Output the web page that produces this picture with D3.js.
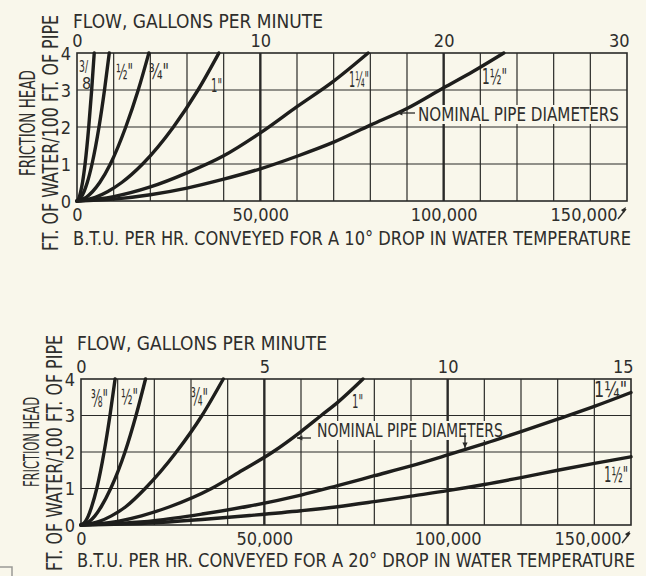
<!DOCTYPE html>
<html>
<head>
<meta charset="utf-8">
<script src="https://cdn.jsdelivr.net/npm/d3@7"></script>
<style>
  body { margin: 0; background: #f9f7eb; }
  svg { display: block; }
  text { font-family: "DejaVu Sans Condensed", "Liberation Sans Narrow", "DejaVu Sans", sans-serif; fill: #2e2e2c; }
</style>
</head>
<body>
<div id="chart"></div>
<script>
// tick values
var btuTicks = [0, 50000, 100000, 150000];
var headTicks = [0, 1, 2, 3, 4];
var gpmTicks10 = [0, 10, 20, 30];
var gpmTicks20 = [0, 5, 10, 15];
var pipeLabels = ["⅜\"", "½\"", "¾\"", "1\"", "1¼\"", "1½\""];

// 10 degree drop: [btu per hr, friction head]
var drop10_38 = [[0,0],[600,0.1],[1000,0.25],[1500,0.5],[2200,1],[3200,2],[4000,3],[4700,4]];
var drop10_12 = [[0,0],[1100,0.1],[1900,0.25],[2800,0.5],[4100,1],[6000,2],[7500,3],[8800,4]];
var drop10_34 = [[0,0],[2500,0.1],[4200,0.25],[6200,0.5],[9100,1],[13300,2],[16700,3],[19600,4]];
var drop10_1 = [[0,0],[5000,0.1],[8300,0.25],[12200,0.5],[17900,1],[26300,2],[33000,3],[38700,4]];
var drop10_114 = [[0,0],[10000,0.12],[20000,0.38],[30000,0.76],[40000,1.22],[50000,1.84],[60000,2.55],[70000,3.24],[79400,4]];
var drop10_112 = [[0,0],[10000,0.05],[20000,0.17],[30000,0.35],[40000,0.59],[50000,0.87],[60000,1.21],[70000,1.59],[80000,2.05],[90000,2.5],[100000,3.06],[108000,3.5],[116400,4]];

// 20 degree drop
var drop20_38 = [[0,0],[1200,0.1],[2000,0.25],[2900,0.5],[4300,1],[6300,2],[7900,3],[9300,4]];
var drop20_12 = [[0,0],[2300,0.1],[3800,0.25],[5500,0.5],[8100,1],[12000,2],[15000,3],[17600,4]];
var drop20_34 = [[0,0],[5000,0.1],[8300,0.25],[12200,0.5],[17500,1],[26000,2],[33000,3],[38800,4]];
var drop20_1 = [[0,0],[10000,0.1],[16500,0.25],[24200,0.5],[35600,1],[44000,1.5],[52300,2],[60000,2.56],[65500,3],[70000,3.36],[76900,4]];
var drop20_114 = [[0,0],[20000,0.12],[33000,0.3],[46000,0.52],[60000,0.82],[70000,1.08],[80000,1.35],[90000,1.62],[100000,1.92],[110000,2.23],[120000,2.56],[130000,2.9],[140000,3.25],[150000,3.63]];
var drop20_112 = [[0,0],[20000,0.06],[33000,0.15],[46000,0.26],[60000,0.39],[70000,0.5],[80000,0.64],[90000,0.79],[100000,0.94],[110000,1.11],[120000,1.3],[130000,1.5],[140000,1.69],[150000,1.87]];

var svg = d3.select("#chart").append("svg")
  .attr("width", 646)
  .attr("height", 576);

var bg = "#f9f7eb";
var ink = "#2a2a28";

function drawChart(cfg) {
  var x = d3.scaleLinear().domain([0, 150000]).range([cfg.left, cfg.right]);
  var y = d3.scaleLinear().domain([0, 4]).range([cfg.bottom, cfg.top]);
  var gpm = d3.scaleLinear().domain([0, cfg.gpmTicks[3]]).range([cfg.left, cfg.right]);

  var g = svg.append("g");

  // grid
  g.selectAll(".vgrid")
    .data(d3.range(10000, 150000, 10000))
    .enter().append("line")
    .attr("x1", function(d) { return x(d); })
    .attr("x2", function(d) { return x(d); })
    .attr("y1", y(0)).attr("y2", y(4))
    .style("stroke", ink)
    .style("stroke-width", function(d) { return d % 50000 === 0 ? 2.4 : 1.2; });

  g.selectAll(".hgrid")
    .data(headTicks.slice(1, 4))
    .enter().append("line")
    .attr("x1", x(0)).attr("x2", x(150000))
    .attr("y1", function(d) { return y(d); })
    .attr("y2", function(d) { return y(d); })
    .style("stroke", ink)
    .style("stroke-width", 1.2);

  g.append("rect")
    .attr("x", x(0)).attr("y", y(4))
    .attr("width", x(150000) - x(0))
    .attr("height", y(0) - y(4))
    .style("fill", "none")
    .style("stroke", ink)
    .style("stroke-width", 1.6);

  // blank the grid behind the note
  g.append("rect")
    .attr("x", cfg.noteX - 2).attr("y", cfg.noteY - 16)
    .attr("width", cfg.noteW + 4).attr("height", 19)
    .style("fill", bg);

  // curves
  var line = d3.line()
    .x(function(d) { return x(d[0]); })
    .y(function(d) { return y(d[1]); })
    .curve(d3.curveMonotoneX);

  g.selectAll(".pipe")
    .data(cfg.series)
    .enter().append("path")
    .attr("d", line)
    .style("fill", "none")
    .style("stroke", "#1e1e1c")
    .style("stroke-width", 3.4)
    .style("stroke-linecap", "round");

  // axes
  var leftAxis = g.append("g")
    .attr("transform", "translate(" + (cfg.left - 4) + ",0)")
    .call(d3.axisLeft(y).tickValues(headTicks).tickSize(0).tickFormat(d3.format("d")));
  leftAxis.select(".domain").remove();
  leftAxis.selectAll("text")
    .style("font-size", "18px")
    .style("fill", "#2e2e2c")
    .attr("x", -2)
    .attr("dy", "0.36em");

  var bottomAxis = g.append("g")
    .attr("transform", "translate(0," + (cfg.bottom + 3) + ")")
    .call(d3.axisBottom(x).tickValues(btuTicks).tickSize(0).tickFormat(d3.format(",")));
  bottomAxis.select(".domain").remove();
  bottomAxis.selectAll("text")
    .style("font-size", "18px")
    .style("fill", "#2e2e2c")
    .attr("y", 4)
    .attr("dy", "0.71em")
    .filter(function(d) { return d === 150000; })
    .style("text-anchor", "end")
    .attr("x", -10);

  var topAxis = g.append("g")
    .attr("transform", "translate(0," + (cfg.top - 4) + ")")
    .call(d3.axisTop(gpm).tickValues(cfg.gpmTicks).tickSize(0).tickFormat(d3.format("d")));
  topAxis.select(".domain").remove();
  topAxis.selectAll("text")
    .style("font-size", "18px")
    .style("fill", "#2e2e2c")
    .attr("y", -2)
    .filter(function(d) { return d === cfg.gpmTicks[3]; })
    .style("text-anchor", "end")
    .attr("x", 2);

  // little arrow at the end of 150,000
  g.append("path")
    .attr("d", "M" + (x(150000) - 9) + "," + (cfg.bottom + 18) + "L" + (x(150000) - 1) + "," + (cfg.bottom + 8))
    .style("stroke", ink).style("stroke-width", 1.3).style("fill", "none");
  g.append("path")
    .attr("d", "M" + (x(150000) - 1) + "," + (cfg.bottom + 6) + "l-5,3 l3,3z")
    .style("fill", ink);

  // titles
  g.append("text")
    .attr("x", cfg.left - 4)
    .attr("y", cfg.flowY)
    .attr("textLength", 250)
    .attr("lengthAdjust", "spacingAndGlyphs")
    .style("font-size", "19px")
    .text("FLOW, GALLONS PER MINUTE");

  g.append("text")
    .attr("x", cfg.left - 4)
    .attr("y", cfg.btuY)
    .attr("textLength", 558)
    .attr("lengthAdjust", "spacingAndGlyphs")
    .style("font-size", "19px")
    .text("B.T.U. PER HR. CONVEYED FOR A " + cfg.drop + " DROP IN WATER TEMPERATURE");

  g.append("text")
    .attr("transform", "translate(" + (cfg.left - 42) + "," + cfg.headMid + ") rotate(-90)")
    .style("text-anchor", "middle")
    .attr("textLength", cfg.headLen)
    .attr("lengthAdjust", "spacingAndGlyphs")
    .style("font-size", "21px")
    .text("FRICTION HEAD");

  g.append("text")
    .attr("transform", "translate(" + (cfg.left - 19) + "," + cfg.unitMid + ") rotate(-90)")
    .style("text-anchor", "middle")
    .attr("textLength", 236)
    .attr("lengthAdjust", "spacingAndGlyphs")
    .style("font-size", "21px")
    .text("FT. OF WATER/100 FT. OF PIPE");

  // note text with arrows
  g.append("text")
    .attr("x", cfg.noteX)
    .attr("y", cfg.noteY)
    .attr("textLength", cfg.noteW)
    .attr("lengthAdjust", "spacingAndGlyphs")
    .style("font-size", "20px")
    .text("NOMINAL PIPE DIAMETERS");

  cfg.arrows.forEach(function(a) {
    g.append("path")
      .attr("d", "M" + a[0] + "," + a[1] + "L" + a[2] + "," + a[3])
      .style("stroke", ink).style("stroke-width", 1.3);
    var ang = Math.atan2(a[3] - a[1], a[2] - a[0]);
    var p1 = [a[2] - 6 * Math.cos(ang - 0.45), a[3] - 6 * Math.sin(ang - 0.45)];
    var p2 = [a[2] - 6 * Math.cos(ang + 0.45), a[3] - 6 * Math.sin(ang + 0.45)];
    g.append("path")
      .attr("d", "M" + a[2] + "," + a[3] + "L" + p1 + "L" + p2 + "Z")
      .style("fill", ink);
  });

  // pipe size labels
  cfg.labels.forEach(function(l) {
    var t = g.append("text")
      .attr("x", l[1]).attr("y", l[2])
      .style("font-size", l[3] + "px")
      .text(l[0]);
    if (l[4]) t.attr("textLength", l[4]).attr("lengthAdjust", "spacingAndGlyphs");
  });
}

drawChart({
  left: 77, right: 627, top: 53, bottom: 201,
  gpmTicks: gpmTicks10,
  drop: "10°",
  flowY: 28, btuY: 245,
  headMid: 123, headLen: 106, unitMid: 133,
  series: [drop10_38, drop10_12, drop10_34, drop10_1, drop10_114, drop10_112],
  noteX: 418, noteY: 121, noteW: 201,
  arrows: [[415, 113, 397, 113]],
  labels: [["3/", 79, 72, 16, 9], ["8", 82, 89, 16], [pipeLabels[1], 116, 79, 22, 17], [pipeLabels[2], 149, 79, 22, 20],
           [pipeLabels[3], 211, 92, 20, 11], [pipeLabels[4], 349, 87, 22, 20], [pipeLabels[5], 482, 84, 22, 25]]
});

drawChart({
  left: 81, right: 631, top: 379, bottom: 525,
  gpmTicks: gpmTicks20,
  drop: "20°",
  flowY: 350, btuY: 567,
  headMid: 442, headLen: 90, unitMid: 453,
  series: [drop20_38, drop20_12, drop20_34, drop20_1, drop20_114, drop20_112],
  noteX: 317, noteY: 437, noteW: 186,
  arrows: [[311, 438, 297, 438], [465, 433, 465, 448]],
  labels: [[pipeLabels[0], 91, 407, 24, 17], [pipeLabels[1], 121, 404, 22, 17], [pipeLabels[2], 191, 406, 24, 17],
           [pipeLabels[3], 352, 408, 19, 11], [pipeLabels[4], 594, 397, 22, 33], [pipeLabels[5], 604, 482, 22, 24]]
});

// small mark at lower left corner of the page
svg.append("path")
  .attr("d", "M0,567 L12,567 L12,576")
  .style("fill", "none")
  .style("stroke", "#9a9a96")
  .style("stroke-width", 1.5);
</script>
</body>
</html>
